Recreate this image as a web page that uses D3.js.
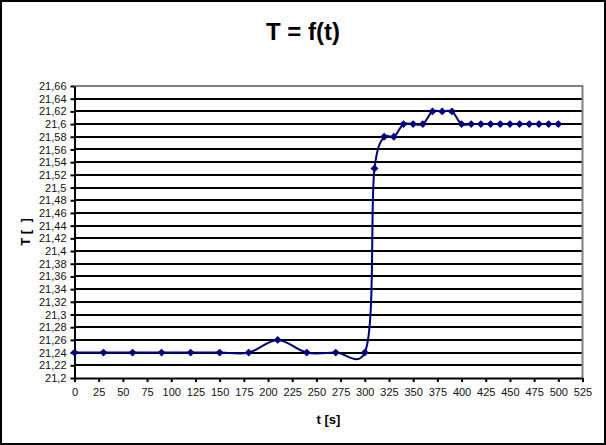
<!DOCTYPE html>
<html><head><meta charset="utf-8">
<script src="https://cdn.jsdelivr.net/npm/d3@7"></script>
<style>html,body{margin:0;padding:0;background:#fff;}svg{display:block;}</style>
</head><body>
<script>
const times = [0,30,60,90,120,150,180,210,240,270,300,310,320,330,340,350,360,370,380,390,400,410,420,430,440,450,460,470,480,490,500];
const temps = [21.24,21.24,21.24,21.24,21.24,21.24,21.24,21.26,21.24,21.24,21.24,21.53,21.58,21.58,21.60,21.60,21.60,21.62,21.62,21.62,21.60,21.60,21.60,21.60,21.60,21.60,21.60,21.60,21.60,21.60,21.60];
const xTicks = d3.range(0, 526, 25);
const yTicks = d3.range(0, 24).map(i => +(21.2 + i*0.02).toFixed(2));
const title = "T = f(t)";
const xTitle = "t [s]";
const yTitle = "T [\u00a0\u00a0]";

const W = 606, H = 445;
const L = 74.5, R = 582.5, T = 86, B = 378;
const svg = d3.select("body").append("svg").attr("width", W).attr("height", H);
svg.append("rect").attr("x",1).attr("y",1).attr("width",W-2).attr("height",H-2).attr("fill","#fff").attr("stroke","#000").attr("stroke-width",2);

const x = d3.scaleLinear().domain([0,525]).range([L,R]);
const y = d3.scaleLinear().domain([21.2,21.66]).range([B,T]);

// grid
svg.append("g").selectAll("line").data(yTicks.filter(v => v > 21.2 && v < 21.66)).join("line")
  .attr("x1", L).attr("x2", R).attr("y1", d => Math.round(y(d))).attr("y2", d => Math.round(y(d)))
  .attr("stroke","#000").attr("stroke-width",2);
// gray plot border top/right
svg.append("path").attr("d", `M${L},${Math.round(y(21.66))}H${R}V${B}`).attr("fill","none").attr("stroke","#808080").attr("stroke-width",2);

const fmt = v => String(+v.toFixed(2)).replace(".", ",");
const yAxis = d3.axisLeft(y).tickValues(yTicks).tickFormat(fmt).tickSize(4).tickSizeOuter(0).tickPadding(4);
const gy = svg.append("g").attr("transform",`translate(${L},0)`).call(yAxis);
const xAxis = d3.axisBottom(x).tickValues(xTicks).tickFormat(d => d).tickSize(4).tickSizeOuter(0).tickPadding(6);
const gx = svg.append("g").attr("transform",`translate(0,${B})`).call(xAxis);
[gx, gy].forEach(g => {
  g.selectAll(".domain").attr("stroke","#000").attr("stroke-width",2);
  g.selectAll(".tick line").attr("stroke","#000").attr("stroke-width",2);
  g.selectAll("text").attr("font-family","Liberation Sans, Arial, sans-serif").attr("font-size",11).attr("fill","#111");
});

// line
const line = d3.line().x((d,i) => x(times[i])).y(d => y(d)).curve(d3.curveCatmullRom.alpha(0.25));
svg.append("path").datum(temps).attr("d", line).attr("fill","none").attr("stroke","#000080").attr("stroke-width",2);
svg.append("g").selectAll("path").data(temps).join("path")
  .attr("d", d3.symbol(d3.symbolDiamond2, 40))
  .attr("transform", (d,i) => `translate(${x(times[i])},${y(d)})`)
  .attr("fill","#000080");

// titles
svg.append("text").attr("x", 303).attr("y", 40).attr("text-anchor","middle")
  .attr("font-family","Liberation Sans, Arial, sans-serif").attr("font-weight","bold").attr("font-size",24).text(title);
svg.append("text").attr("x", (L+R)/2).attr("y", 424).attr("text-anchor","middle")
  .attr("font-family","Liberation Sans, Arial, sans-serif").attr("font-weight","bold").attr("font-size",13).text(xTitle);
svg.append("text").attr("transform", `translate(30,${(T+B)/2}) rotate(-90)`).attr("text-anchor","middle")
  .attr("font-family","Liberation Sans, Arial, sans-serif").attr("font-weight","bold").attr("font-size",13).text(yTitle);
</script>
</body></html>
